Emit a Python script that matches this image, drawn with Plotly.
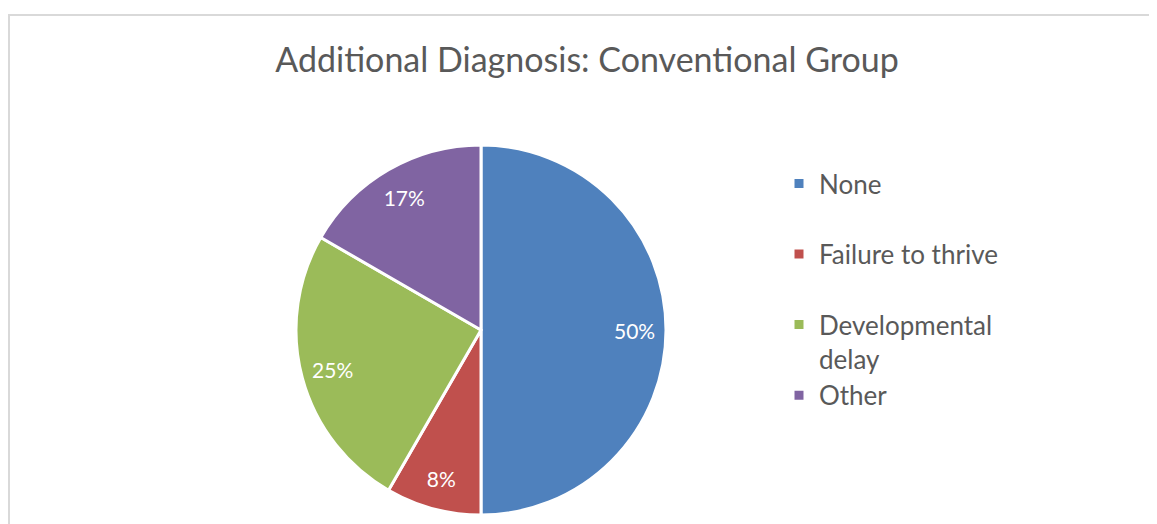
import plotly.graph_objects as go

# --- data ---
categories = ['None', 'Failure to thrive', 'Developmental delay', 'Other']
counts = [6, 1, 3, 2]
slice_colors = ['#4F81BD', '#C0504D', '#9BBB59', '#8064A2']

# legend text: Excel gives each entry a two-line slot
legend_text = {
    'None': 'None<br> ',
    'Failure to thrive': 'Failure to thrive<br> ',
    'Developmental delay': 'Developmental<br>delay',
    'Other': 'Other',
}
labels = [legend_text[c] for c in categories]

W, H = 1157, 524
# the page body adds an 8px margin, so layout positions are shifted back by 8
OFF = 8


def px_x(x):
    return (x - OFF) / W


def px_y(y):
    return 1 - (y - OFF) / H


pie_domain = dict(x=[px_x(296), px_x(666)], y=[px_y(515), px_y(145)])

fig = go.Figure()

# the slices themselves
fig.add_trace(go.Pie(
    labels=labels,
    values=counts,
    sort=False,
    direction='clockwise',
    rotation=0,
    marker=dict(colors=slice_colors, line=dict(color='white', width=3)),
    textinfo='none',
    hovertemplate='%{label}: %{value} (%{percent})<extra></extra>',
    domain=pie_domain,
))

# transparent ring on top, only used to put the percentage labels out near the rim
fig.add_trace(go.Pie(
    labels=labels,
    values=counts,
    sort=False,
    direction='clockwise',
    rotation=0,
    hole=0.66,
    marker=dict(colors=['rgba(0,0,0,0)'] * len(counts), line=dict(width=0)),
    texttemplate='%{percent:.0%}',
    textposition='inside',
    insidetextorientation='horizontal',
    textfont=dict(color='white', size=21, family='Lato'),
    hoverinfo='skip',
    showlegend=False,
    domain=pie_domain,
))

fig.update_layout(
    width=W, height=H,
    margin=dict(l=0, r=0, t=0, b=0),
    paper_bgcolor='white',
    font=dict(family='Lato', color='#595959'),
    title=dict(text='Additional Diagnosis: Conventional Group',
               x=px_x(587), xanchor='center', y=px_y(60), yanchor='middle',
               font=dict(size=34, color='#595959', family='Lato')),
    legend=dict(x=px_x(779), xanchor='left', y=px_y(160), yanchor='top',
                font=dict(size=26, color='#595959', family='Lato'),
                valign='top', bgcolor='rgba(0,0,0,0)'),
    shapes=[dict(type='rect', xref='paper', yref='paper',
                 x0=px_x(9), x1=1.02, y0=-0.02, y1=px_y(15),
                 line=dict(color='#D9D9D9', width=2))],
)

fig.write_html('out.html')
